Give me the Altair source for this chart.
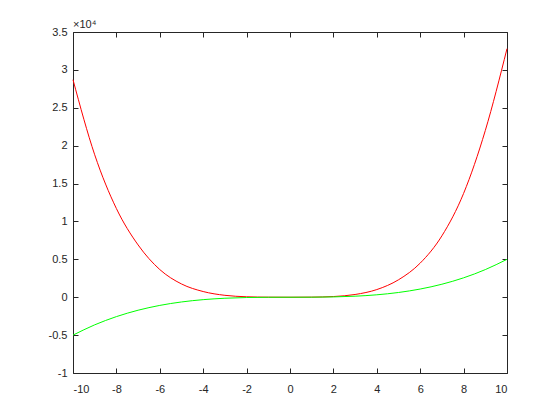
import altair as alt
import pandas as pd

x_vals = [-10, -9, -8, -7, -6, -5, -4, -3, -2, -1, 0, 1, 2, 3, 4, 5, 6, 7, 8, 9, 10]
red_vals = [28700, 18800, 11700, 6900, 3650, 1750, 750, 250, 60, 8, 0,
            12, 90, 360, 1010, 2300, 4500, 8100, 13700, 22000, 32800]
green_vals = [-5000, -3645, -2560, -1715, -1080, -625, -320, -135, -40, -5, 0,
              5, 40, 135, 320, 625, 1080, 1715, 2560, 3645, 5000]
x_ticks = [-10, -8, -6, -4, -2, 0, 2, 4, 6, 8, 10]
y_ticks = [-10000, -5000, 0, 5000, 10000, 15000, 20000, 25000, 30000, 35000]

red_df = pd.DataFrame({"x": x_vals, "y": red_vals})
green_df = pd.DataFrame({"x": x_vals, "y": green_vals})

xs = alt.Scale(domain=[-10, 10], nice=False, zero=False)
ys = alt.Scale(domain=[-10000, 35000], nice=False, zero=False)

ink = "#262626"
inward = {"expr": "-5"}

red = alt.Chart(red_df).mark_line(color="#FF0000", strokeWidth=1, interpolate="monotone").encode(
    x=alt.X("x:Q", scale=xs, axis=alt.Axis(orient="bottom", values=x_ticks, title=None,
            ticks=True, tickSize=inward, tickColor=ink, labelPadding=15, domain=False, grid=False,
            labelExpr="toString(datum.value)")),
    y=alt.Y("y:Q", scale=ys, axis=alt.Axis(orient="left", values=y_ticks, title=None,
            ticks=True, tickSize=inward, tickColor=ink, labelPadding=11, domain=False, grid=False,
            labelExpr="toString(datum.value / 10000)")),
)

green = alt.Chart(green_df).mark_line(color="#00FF00", strokeWidth=1, interpolate="monotone").encode(
    x=alt.X("x:Q", scale=xs, axis=alt.Axis(orient="top", values=x_ticks, title=None,
            ticks=True, tickSize=inward, tickColor=ink, labels=False, domain=False, grid=False)),
    y=alt.Y("y:Q", scale=ys, axis=alt.Axis(orient="right", values=y_ticks, title=None,
            ticks=True, tickSize=inward, tickColor=ink, labels=False, domain=False, grid=False)),
)

chart = alt.layer(red, green).resolve_axis(x="independent", y="independent").properties(
    width=434,
    height=341,
    autosize=alt.AutoSizeParams(type="none"),
    padding={"left": 65, "top": 24, "right": 40, "bottom": 30},
    title=alt.TitleParams("×10⁴", anchor="start", frame="group", fontSize=11,
                          font="Liberation Sans", fontWeight="normal", color=ink,
                          offset=-13, baseline="alphabetic"),
    background="white",
).configure_view(stroke=ink, strokeWidth=1).configure_axis(
    labelFont="Liberation Sans", labelFontSize=11, labelColor=ink, tickWidth=1
)

chart.save("out.html", embed_options={"renderer": "svg", "actions": False})
